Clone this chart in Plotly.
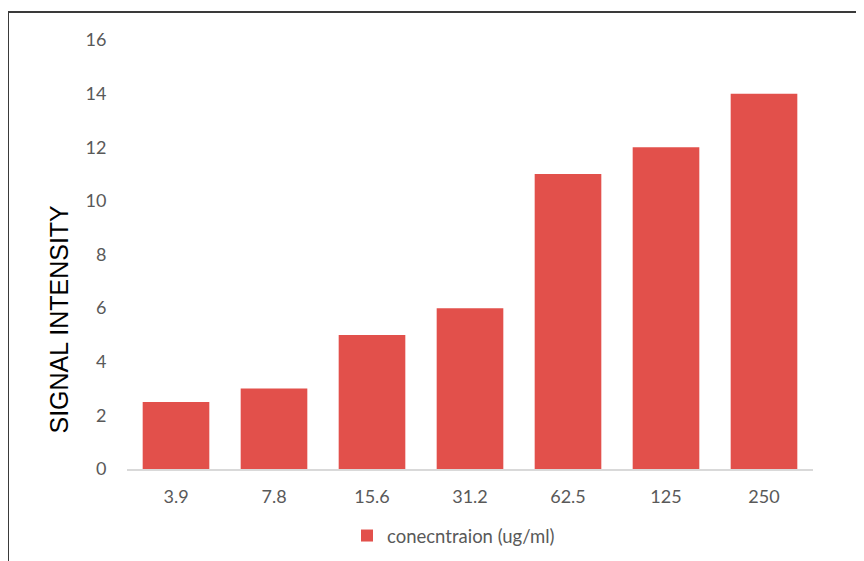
import plotly.graph_objects as go

categories = ["3.9", "7.8", "15.6", "31.2", "62.5", "125", "250"]
values = [2.5, 3, 5, 6, 11, 12, 14]
series_name = "conecntraion (ug/ml)"
y_title = "SIGNAL INTENSITY"
y_ticks = [0, 2, 4, 6, 8, 10, 12, 14, 16]

bar_color = "#E2504B"
tick_color = "#595959"
tick_font = "Lato, Open Sans, sans-serif"

# page shifts the figure by 8px (body margin), so margins are compensated
L, R, T, B = 119, 59, 32, 100
W, H = 864, 561
PW = W - L - R
PH = H - T - B

fig = go.Figure()
fig.add_trace(go.Bar(
    x=categories, y=values, name=series_name,
    marker=dict(color=bar_color, line=dict(width=0)),
))

fig.update_layout(
    width=W, height=H,
    margin=dict(l=L, r=R, t=T, b=B),
    paper_bgcolor="white", plot_bgcolor="white",
    bargap=0.32,
    showlegend=True,
    legend=dict(
        orientation="h", x=(339 - L) / PW, xanchor="left",
        y=(PH + T - 528) / PH, yanchor="middle",
        font=dict(family=tick_font, size=18.5, color=tick_color),
        itemwidth=30,
    ),
    font=dict(family=tick_font, size=18, color=tick_color),
    xaxis=dict(
        type="category", showgrid=False, showline=True, linecolor="#D9D9D9", linewidth=1.5,
        ticks="outside", ticklen=11, tickcolor="rgba(0,0,0,0)",
        tickfont=dict(family=tick_font, size=18, color=tick_color),
    ),
    yaxis=dict(
        range=[0, 16], tickvals=y_ticks, showgrid=False, showline=False, zeroline=False,
        ticks="outside", ticklen=16, tickcolor="rgba(0,0,0,0)",
        tickfont=dict(family=tick_font, size=18, color=tick_color),
    ),
    annotations=[dict(
        text=y_title, xref="paper", yref="paper",
        x=(50.5 - L) / PW, y=(PH + T - 311) / PH, xanchor="center", yanchor="middle",
        textangle=-90, showarrow=False,
        font=dict(family="Liberation Sans, Arial, sans-serif", size=25, color="#000000"),
    )],
    shapes=[dict(
        type="rect", xref="paper", yref="paper",
        x0=(0 - L) / PW, x1=(880 - L) / PW,
        y0=(PH + T - 580) / PH, y1=(PH + T - 4) / PH,
        line=dict(color="#3A3A3A", width=2), fillcolor="rgba(0,0,0,0)", layer="below",
    )],
)

fig.write_html("out.html")
